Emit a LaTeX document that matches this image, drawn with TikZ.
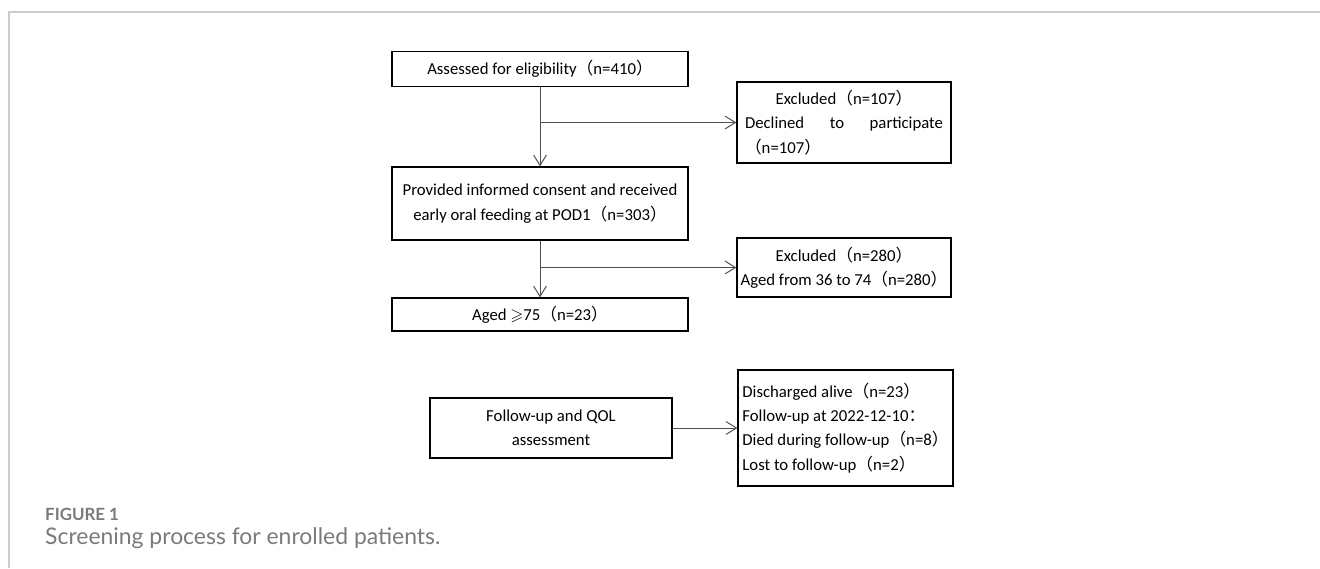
\documentclass[tikz,border=0pt]{standalone}
\usepackage{amssymb}
\usepackage{fontspec}
\setmainfont{Carlito}
\newfontfamily\cjk{Noto Sans CJK SC}
\newfontfamily\capfont{Lato}
\usetikzlibrary{arrows.meta, positioning, calc}
\definecolor{frmgray}{HTML}{CCCCCC}
\definecolor{linegray}{HTML}{505050}
\definecolor{capgray}{HTML}{7A7A7A}
\newcommand{\fwl}{{\cjk （}}
\newcommand{\fwr}{{\cjk ）}}

\begin{document}
\begin{tikzpicture}[>={Straight Barb[length=2.6mm, width=3.2mm]}, line width=0.8pt,
  flowbox/.style={draw=black, line width=0.9pt, align=center, font=\fontsize{11.9}{17.3}\selectfont, inner sep=2pt},
  flowarrow/.style={draw=linegray, ->, line width=0.7pt}]

% Frame
\useasboundingbox (0,0) rectangle (33,-14.2);
\draw[frmgray, line width=1.3pt] (0.225,-14.2) -- (0.225,-0.3) -- (33,-0.3);

% Main column
\node[flowbox, minimum width=7.4cm, minimum height=0.875cm] (assess) at (13.5,-1.725)
  {Assessed for eligibility\fwl n=410\fwr};
\node[flowbox, minimum width=7.4cm, minimum height=1.825cm] (consent) at (13.5,-5.0875)
  {Provided informed consent and received\\early oral feeding at POD1\fwl n=303\fwr};
\node[flowbox, minimum width=7.4cm, minimum height=0.825cm] (aged) at (13.5,-7.8625)
  {Aged $\geqslant$75\fwl n=23\fwr};
\node[flowbox, minimum width=6.05cm, minimum height=1.5cm] (follow) at (13.775,-10.7)
  {Follow-up and QOL\\assessment};

% Exclusion column
\node[flowbox, minimum width=5.35cm, minimum height=2.025cm] (excl1) at (21.1,-3.0625)
  {\parbox{4.95cm}{\centering Excluded\fwl n=107\fwr\\
   Declined \hfill to \hfill participate\\
   \hbox to\linewidth{\fwl n=107\fwr\hfil}}};
\node[flowbox, minimum width=5.35cm, minimum height=1.475cm] (excl2) at (21.1,-6.6875)
  {Excluded\fwl n=280\fwr\\Aged from 36 to 74\fwl n=280\fwr};
\node[flowbox, minimum width=5.375cm, minimum height=2.9cm, align=left] (result) at (21.1375,-10.7)
  {Discharged alive\fwl n=23\fwr\\
   Follow-up at 2022-12-10{\cjk ：}\\
   Died during follow-up\fwl n=8\fwr\\
   Lost to follow-up\fwl n=2\fwr};

% Connectors
\draw[flowarrow] (assess) -- (consent);
\draw[flowarrow] (assess.south |- excl1.west) -- (excl1.west);
\draw[flowarrow] (consent) -- (aged);
\draw[flowarrow] (consent.south |- excl2.west) -- (excl2.west);
\draw[flowarrow] (follow) -- (result);

% Caption
\node[anchor=base west, text=capgray, font=\capfont\bfseries\fontsize{12}{14}\selectfont] (figlabel) at (1.0,-13.0) {FIGURE 1};
\node[anchor=base west, text=capgray, font=\capfont\fontsize{16.3}{19}\selectfont] (figcaption) at (1.0,-13.6) {Screening process for enrolled patients.};

\end{tikzpicture}
\end{document}
